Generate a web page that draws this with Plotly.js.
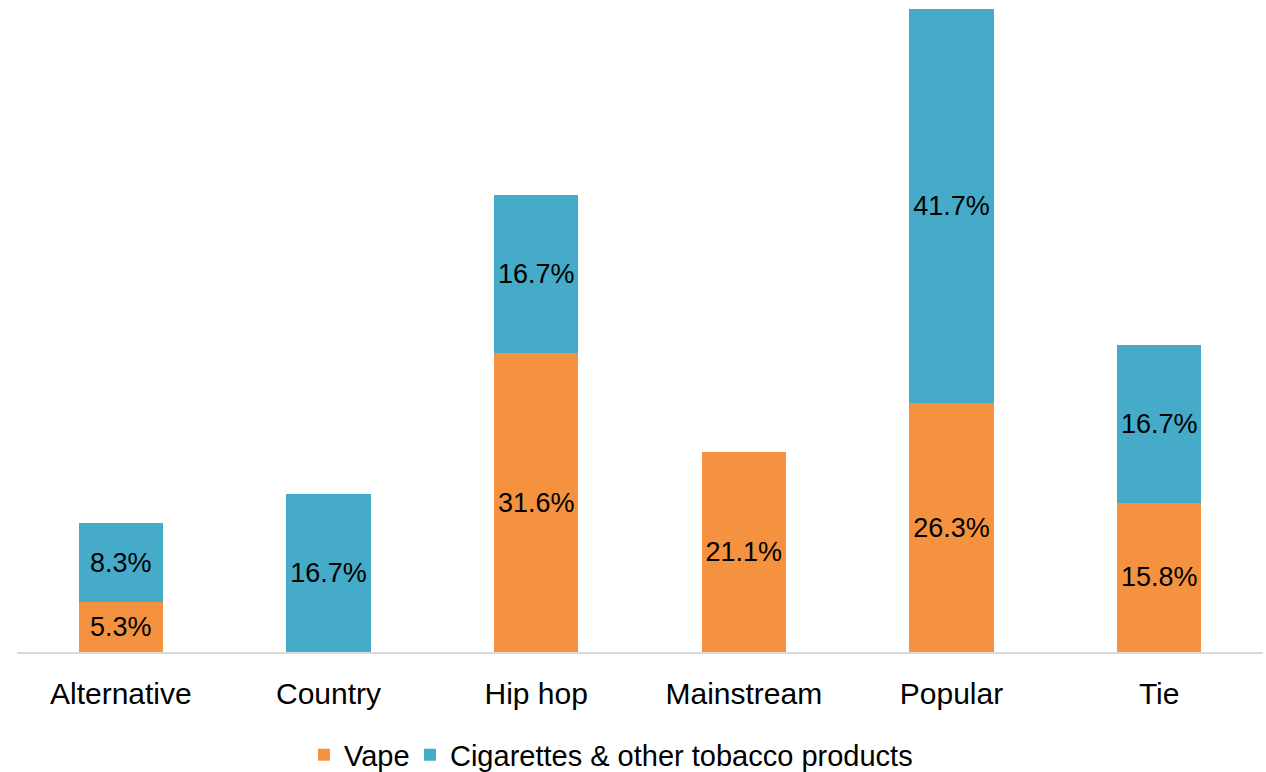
<!DOCTYPE html>
<html>
<head>
<meta charset="utf-8">
<script src="https://cdn.plot.ly/plotly-3.0.1.min.js"></script>
<style>html,body{margin:0;padding:0;background:#fff;}#chart{width:1266px;height:772px;}</style>
</head>
<body>
<div id="chart"></div>
<script>
const categories = ["Alternative", "Country", "Hip hop", "Mainstream", "Popular", "Tie"];
const vapeValues = [5.3, null, 31.6, 21.1, 26.3, 15.8];
const cigValues = [8.3, 16.7, 16.7, null, 41.7, 16.7];
const seriesNames = ["Vape", "Cigarettes & other tobacco products"];

const FONT = "Liberation Sans, Arial, sans-serif";

const common = {
  type: "bar",
  x: categories,
  texttemplate: "%{y:.1f}%",
  textposition: "inside",
  insidetextanchor: "middle",
  constraintext: "none",
  textfont: {family: FONT, size: 27, color: "#000000"},
  hoverinfo: "skip"
};

const traces = [
  Object.assign({}, common, {
    name: seriesNames[0],
    y: vapeValues,
    legend: "legend",
    marker: {color: "#F4923F", line: {width: 0}}
  }),
  Object.assign({}, common, {
    name: seriesNames[1],
    y: cigValues,
    legend: "legend2",
    marker: {color: "#45ABC8", line: {width: 0}}
  })
];

const legendStyle = {
  orientation: "h",
  xanchor: "left",
  y: -0.158, yanchor: "middle",
  font: {family: FONT, size: 29, color: "#000000"},
  bgcolor: "rgba(0,0,0,0)"
};

const layout = {
  width: 1266,
  height: 772,
  barmode: "stack",
  bargap: 0.595,
  paper_bgcolor: "#ffffff",
  plot_bgcolor: "#ffffff",
  margin: {l: 17, r: 3, t: 0, b: 120, autoexpand: false},
  font: {family: FONT, color: "#000000"},
  showlegend: true,
  legend: Object.assign({}, legendStyle, {x: 0.2303}),
  legend2: Object.assign({}, legendStyle, {x: 0.3154}),
  xaxis: {
    automargin: false,
    showline: true,
    linecolor: "#D9D9D9",
    linewidth: 2,
    ticks: "",
    tickfont: {family: FONT, size: 30, color: "#000000"},
    ticklabelstandoff: 14,
    showgrid: false,
    zeroline: false
  },
  yaxis: {
    automargin: false,
    range: [0, 68.95],
    visible: false,
    showgrid: false,
    zeroline: false
  }
};

Plotly.newPlot("chart", traces, layout, {displayModeBar: false, staticPlot: true});
</script>
</body>
</html>
